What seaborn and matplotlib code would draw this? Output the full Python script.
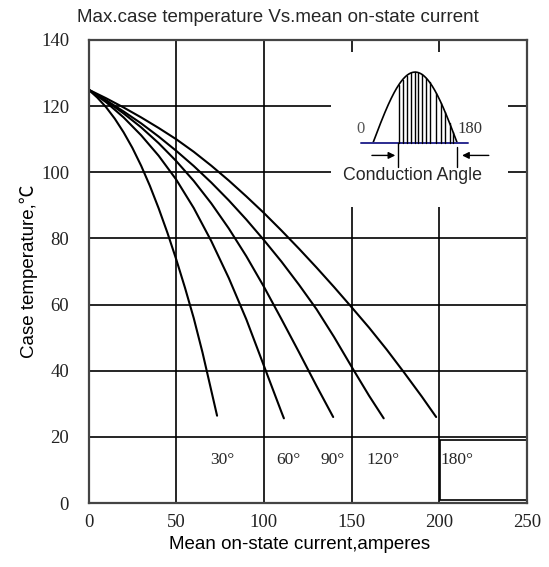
import numpy as np
import pandas as pd
import matplotlib
matplotlib.use('Agg')
import matplotlib.pyplot as plt
import seaborn as sns
from matplotlib.patches import Rectangle

# ---- data ----
angles = ['30°', '60°', '90°', '120°', '180°']

current_30 = [0, 5, 10, 15, 20, 25, 30, 35, 40, 45, 50, 55, 60, 65, 70, 73.3]
temp_30 = [125, 122.6, 119.7, 116.2, 112.1, 107.4, 102.0, 95.9, 89.1, 81.7, 73.7,
           65.1, 55.9, 45.5, 34.0, 26.4]

current_60 = [0, 10, 20, 30, 40, 50, 60, 70, 80, 90, 100, 110, 111.4]
temp_60 = [125, 121.2, 116.6, 111.2, 105.0, 97.8, 89.2, 79.2, 68.0, 55.5, 41.5, 27.5, 25.6]

current_90 = [0, 10, 20, 30, 40, 50, 60, 70, 80, 90, 100, 110, 120, 130, 139.5]
temp_90 = [125, 121.6, 117.8, 113.6, 108.8, 103.4, 97.4, 90.6, 83.0, 74.6, 65.4,
           55.6, 45.6, 35.4, 26.0]

current_120 = [0, 10, 20, 30, 40, 50, 60, 70, 80, 90, 100, 110, 120, 130, 140, 150, 160, 168.3]
temp_120 = [125, 121.8, 118.4, 114.8, 110.8, 106.5, 101.9, 96.9, 91.5, 85.7, 79.5,
            73.0, 66.0, 58.6, 50.2, 41.2, 32.4, 25.6]

current_180 = [0, 10, 20, 30, 40, 50, 60, 70, 80, 90, 100, 110, 120, 130, 140, 150,
               160, 170, 180, 190, 198.2]
temp_180 = [125, 122.4, 119.6, 116.6, 113.4, 110.0, 106.2, 102.0, 97.5, 92.7, 87.7,
            82.4, 76.9, 71.2, 65.3, 59.2, 53.0, 46.4, 39.4, 32.2, 26.0]

label_x = [76.4, 114.1, 139.3, 167.9, 200.9]
label_y = [13, 13, 13, 13, 13]

x_ticks = [0, 50, 100, 150, 200, 250]
y_ticks = [0, 20, 40, 60, 80, 100, 120, 140]

title = 'Max.case temperature Vs.mean on-state current'
xlabel = 'Mean on-state current,amperes'
ylabel = 'Case temperature,℃'

# ---- build long-form table ----
rows = []
for a, xs, ys in zip(angles,
                     [current_30, current_60, current_90, current_120, current_180],
                     [temp_30, temp_60, temp_90, temp_120, temp_180]):
    for i, (x, y) in enumerate(zip(xs, ys)):
        rows.append({'angle': a, 'order': i, 'current': x, 'temp': y})
df = pd.DataFrame(rows)

sns.set_theme(style='white')
plt.rcParams['font.family'] = ['Liberation Sans', 'DejaVu Sans']

fig = plt.figure(figsize=(5.49, 5.67), dpi=100)
ax = fig.add_axes([88.5 / 549, 1 - 503 / 567, (527 - 88.5) / 549, (503 - 40) / 567])

sns.lineplot(data=df, x='current', y='temp', hue='angle', units='angle',
             estimator=None, sort=False, palette=['black'] * 5,
             linewidth=1.5, legend=False, ax=ax, zorder=3)
for ln in ax.get_lines():
    ln.set_solid_joinstyle('round')

ax.set_xlim(0, 250)
ax.set_ylim(0, 140)
ax.set_xticks(x_ticks)
ax.set_yticks(y_ticks)
ax.grid(True, color='black', linewidth=1.2)
ax.set_axisbelow(True)
ax.tick_params(length=0, labelsize=13.5, colors='#222222')
ax.tick_params(axis='x', pad=8)
ax.tick_params(axis='y', pad=14)
for lbl in ax.get_xticklabels() + ax.get_yticklabels():
    lbl.set_fontfamily(['Liberation Serif', 'DejaVu Serif'])
for sp in ax.spines.values():
    sp.set_color('#444444')
    sp.set_linewidth(1.6)
    sp.set_visible(True)
    sp.set_zorder(4)

ax.set_xlabel(xlabel, fontsize=13.5, color='black')
ax.xaxis.set_label_coords((300 - 88.5) / (527 - 88.5), -0.071)
ax.xaxis.label.set_va('top')
ax.set_ylabel(ylabel, fontsize=13.5, labelpad=2, color='black',
              family=['Liberation Sans', 'Noto Sans CJK SC', 'DejaVu Sans'])
fig.text(278 / 549, 1 - 18 / 567, title, ha='center', va='center', fontsize=13.5)

# curve labels
for t, x, y in zip(angles, label_x, label_y):
    ha = 'left' if t == '180°' else 'center'
    ax.text(x, y, t, ha=ha, va='center', fontsize=12.5,
            family=['Liberation Serif', 'DejaVu Serif'], zorder=5)

# bottom-right box
ax.add_patch(Rectangle((200.6, 1.0), 49.4, 18.1, facecolor='none',
                       edgecolor='black', linewidth=1.2, zorder=3))

# inset (white area covering grid)
ax.add_patch(Rectangle((138.2, 89.5), 101.2, 46.9, facecolor='white',
                       edgecolor='none', zorder=1.5))

# schematic conduction-angle hump
x0h, x1h, base, h = 162.2, 210.2, 108.9, 21.4
tt = np.linspace(0, 1, 200)
ax.plot(x0h + (x1h - x0h) * tt, base + h * np.sin(np.pi * tt), color='black', lw=1.2, zorder=3)
ax.plot([155.3, 216.6], [base, base], color='#2b2b8f', lw=1.4, zorder=3)
hatch_px = [397.5, 401.5, 405.5, 409.5, 413.5, 417, 420.5, 424.5, 428.5, 435, 440, 444, 448.5, 452]
for p in hatch_px:
    xv = (p - 88.5) / 1.748
    t = (xv - x0h) / (x1h - x0h)
    ax.plot([xv, xv], [base, base + h * np.sin(np.pi * t)], color='black', lw=1.0, zorder=3)

ax.text(155.3, 113.1, '0', ha='center', va='center', fontsize=12, color='#555555',
        family=['Liberation Serif', 'DejaVu Serif'], zorder=5)
ax.text(217.7, 113.1, '180', ha='center', va='center', fontsize=12, color='#333333',
        family=['Liberation Serif', 'DejaVu Serif'], zorder=5)

ax.annotate('', xy=(176.5, 105.1), xytext=(160, 105.1),
            arrowprops=dict(arrowstyle='-|>', color='black', lw=1.0, mutation_scale=10), zorder=5)
ax.annotate('', xy=(211.4, 105.1), xytext=(229.8, 105.1),
            arrowprops=dict(arrowstyle='-|>', color='black', lw=1.0, mutation_scale=10), zorder=5)
ax.plot([176.5, 176.5], [101.6, 108.9], color='black', lw=1.0, zorder=3)
ax.plot([210.2, 210.2], [101.6, 107.7], color='black', lw=1.0, zorder=3)
ax.text(185, 98.9, 'Conduction Angle', ha='center', va='center', fontsize=12.8, zorder=5)

fig.savefig('out.png', dpi=100)
